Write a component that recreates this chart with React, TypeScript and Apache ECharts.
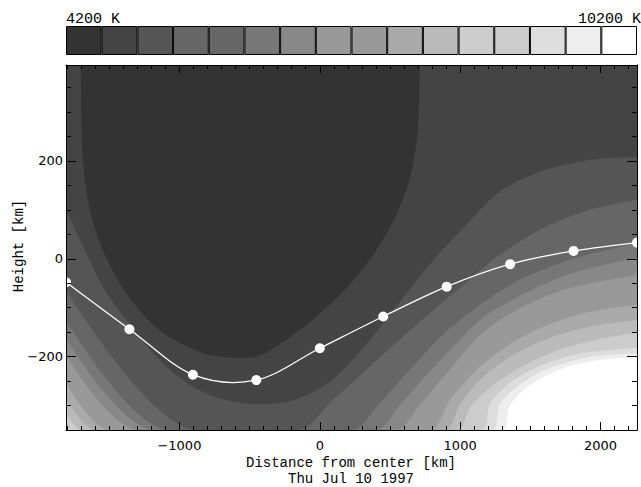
import React, { useEffect, useRef } from "react";
import * as echarts from "echarts";

// ---- axis extents (km) ----
const X_MIN = -1808;
const X_MAX = 2260;
const Y_MIN = -350;
const Y_MAX = 396;

// ---- colour bar ----
const tempLevels = [4200, 4600, 5000, 5400, 5800, 6200, 6600, 7000, 7400, 7800, 8200, 8600, 9000, 9400, 9800, 10200];
const grayLevels = [
  "#333333", "#444444", "#555555", "#666666", "#666666", "#777777", "#888888", "#999999",
  "#999999", "#aaaaaa", "#bbbbbb", "#cccccc", "#cccccc", "#dddddd", "#eeeeee", "#ffffff",
];

// ---- traced height curve (white line with dots) ----
const traceX = [-1808, -1356, -904, -452, 0, 452, 904, 1356, 1808, 2260];
const traceY = [-48, -144, -237, -248, -183, -118, -57, -11, 16, 33];

// ---- tick values ----
const xMajor = [-1000, 0, 1000, 2000];
const yMajor = [-200, 0, 200];
const xMinor: number[] = [];
for (let v = -1800; v <= 2200; v += 100) if (v % 1000 !== 0) xMinor.push(v);
const yMinor: number[] = [];
for (let v = -300; v <= 350; v += 50) if (v % 200 !== 0) yMinor.push(v);

// ---- isotherm boundaries [km, km]; region above each boundary is colder ----
const c01 = [[-1702, 396], [-1688, 202], [-1638, 100], [-1560, 28], [-1460, -33], [-1318, -94], [-1118, -151], [-855, -190], [-712, -200], [-570, -203], [-430, -198], [-335, -184], [-93, -135], [107, -84], [271, -33], [427, 28], [556, 96], [648, 172], [698, 264], [712, 396]];
const c02 = [[-1808, 100], [-1674, 18], [-1531, -64], [-1353, -135], [-1140, -207], [-926, -258], [-712, -285], [-463, -297], [-214, -291], [71, -252], [356, -166], [570, -88], [783, -11], [997, 55], [1282, 137], [1567, 178], [1923, 202], [2260, 208]];
const c03 = [[-1808, -64], [-876, -350], [-164, -350], [107, -285], [392, -211], [712, -129], [997, -60], [1282, 8], [1567, 59], [1923, 100], [2260, 120]];
const c04 = [[-1808, -94], [-976, -350], [36, -350], [285, -285], [534, -211], [819, -131], [1140, -64], [1424, -13], [1781, 32], [2260, 69]];
const c05 = [[-1808, -125], [-1068, -350], [228, -350], [427, -295], [641, -227], [890, -152], [1140, -94], [1424, -43], [1781, -2], [2260, 32]];
const c06 = [[-1808, -162], [-1175, -350], [399, -350], [570, -299], [783, -231], [997, -166], [1140, -125], [1424, -76], [1781, -31], [2260, 2]];
const c07 = [[-1808, -197], [-1282, -350], [541, -350], [712, -299], [926, -227], [1140, -156], [1424, -101], [1781, -60], [2260, -33]];
const c08 = [[-1808, -223], [-1389, -350], [662, -350], [783, -305], [926, -258], [1104, -201], [1318, -152], [1567, -115], [1887, -84], [2260, -64]];
const c09 = [[-1808, -252], [-1496, -350], [783, -350], [926, -289], [1104, -231], [1318, -182], [1567, -142], [1887, -111], [2260, -94]];
const c10 = [[-1808, -285], [-1595, -350], [890, -350], [997, -299], [1140, -248], [1353, -201], [1638, -162], [1923, -139], [2260, -125]];
const c11 = [[-1808, -315], [-1695, -350], [983, -350], [1068, -305], [1211, -264], [1424, -223], [1709, -186], [1994, -164], [2260, -152]];
const c12 = [[-1808, -350], [1068, -350], [1140, -299], [1282, -258], [1496, -221], [1781, -193], [2030, -178], [2260, -170]];
const c13 = [[-1808, -350], [1154, -350], [1211, -297], [1353, -254], [1567, -219], [1852, -194], [2260, -182]];
const c14 = [[-1808, -350], [1225, -350], [1282, -298], [1424, -257], [1638, -224], [1923, -201], [2260, -193]];
const c15 = [[-1808, -350], [1296, -350], [1353, -300], [1496, -259], [1709, -227], [1923, -210], [2260, -201]];
const isotherms = [c01, c02, c03, c04, c05, c06, c07, c08, c09, c10, c11, c12, c13, c14, c15];

const MONO = "Liberation Mono";
const TICKFONT = "DejaVu Sans";
const fmt = (v: number) => (v < 0 ? "\u2212" + Math.abs(v) : String(v));

function traceRenderItem(params: any, api: any) {
  const n = traceX.length;
  const i = params.dataIndex;
  const P = (j: number) => {
    const k = Math.max(0, Math.min(n - 1, j));
    return api.coord([traceX[k], traceY[k]]);
  };
  const children: any[] = [];
  if (i < n - 1) {
    const p0 = P(i - 1), p1 = P(i), p2 = P(i + 1), p3 = P(i + 2);
    children.push({
      type: "bezierCurve",
      shape: {
        x1: p1[0], y1: p1[1], x2: p2[0], y2: p2[1],
        cpx1: p1[0] + (p2[0] - p0[0]) / 6, cpy1: p1[1] + (p2[1] - p0[1]) / 6,
        cpx2: p2[0] - (p3[0] - p1[0]) / 6, cpy2: p2[1] - (p3[1] - p1[1]) / 6,
      },
      style: { stroke: "#ffffff", lineWidth: 1.3, fill: "none" },
      z2: 1,
    });
  }
  const c = P(i);
  children.push({ type: "circle", shape: { cx: c[0], cy: c[1], r: 5 }, style: { fill: "#ffffff" }, z2: 2 });
  return { type: "group", children };
}

function buildOption() {
  const axisBase = (extra: any) => ({
    gridIndex: 0,
    type: "value",
    z: 6,
    splitLine: { show: false },
    ...extra,
  });
  const line = { show: true, onZero: false, lineStyle: { color: "#000", width: 1 } };
  const noLine = { show: false, onZero: false };

  const xAxis: any[] = [
    axisBase({ min: X_MIN, max: X_MAX, position: "bottom", axisLine: line,
      axisTick: { show: true, inside: true, length: 8, customValues: xMajor, lineStyle: { color: "#000" } },
      axisLabel: { show: true, customValues: xMajor, formatter: fmt, color: "#000", fontFamily: TICKFONT, fontSize: 13, margin: 9 } }),
    axisBase({ min: X_MIN, max: X_MAX, position: "bottom", axisLine: noLine,
      axisTick: { show: true, inside: true, length: 4, customValues: xMinor, lineStyle: { color: "#000" } },
      axisLabel: { show: false } }),
    axisBase({ min: X_MIN, max: X_MAX, position: "top", axisLine: line,
      axisTick: { show: true, inside: true, length: 8, customValues: xMajor, lineStyle: { color: "#000" } },
      axisLabel: { show: false } }),
    axisBase({ min: X_MIN, max: X_MAX, position: "top", axisLine: noLine,
      axisTick: { show: true, inside: true, length: 4, customValues: xMinor, lineStyle: { color: "#000" } },
      axisLabel: { show: false } }),
    { gridIndex: 1, type: "category", data: tempLevels.map(String), show: false },
  ];
  const yAxis: any[] = [
    axisBase({ min: Y_MIN, max: Y_MAX, position: "left", axisLine: line,
      axisTick: { show: true, inside: true, length: 10, customValues: yMajor, lineStyle: { color: "#000" } },
      axisLabel: { show: true, customValues: yMajor, formatter: fmt, color: "#000", fontFamily: TICKFONT, fontSize: 13, margin: 3 } }),
    axisBase({ min: Y_MIN, max: Y_MAX, position: "left", axisLine: noLine,
      axisTick: { show: true, inside: true, length: 5, customValues: yMinor, lineStyle: { color: "#000" } },
      axisLabel: { show: false } }),
    axisBase({ min: Y_MIN, max: Y_MAX, position: "right", axisLine: line,
      axisTick: { show: true, inside: true, length: 10, customValues: yMajor, lineStyle: { color: "#000" } },
      axisLabel: { show: false } }),
    axisBase({ min: Y_MIN, max: Y_MAX, position: "right", axisLine: noLine,
      axisTick: { show: true, inside: true, length: 5, customValues: yMinor, lineStyle: { color: "#000" } },
      axisLabel: { show: false } }),
    { gridIndex: 1, type: "value", min: 0, max: 1, show: false },
  ];

  const series: any[] = [];
  for (let k = isotherms.length; k >= 1; k--) {
    series.push({
      type: "line",
      xAxisIndex: 0,
      yAxisIndex: 0,
      data: isotherms[k - 1],
      smooth: 0.3,
      symbol: "none",
      silent: true,
      z: 1,
      lineStyle: { width: 0, opacity: 0 },
      areaStyle: { color: grayLevels[k - 1], opacity: 1, origin: "end" },
    });
  }
  series.push({
    type: "custom",
    xAxisIndex: 0,
    yAxisIndex: 0,
    data: traceX.map((x, i) => [x, traceY[i]]),
    encode: { x: 0, y: 1 },
    renderItem: traceRenderItem,
    clip: true,
    silent: true,
    z: 3,
  });
  series.push({
    type: "bar",
    xAxisIndex: 4,
    yAxisIndex: 4,
    barWidth: "100%",
    barCategoryGap: 0,
    data: grayLevels.map((c) => ({ value: 1, itemStyle: { color: c } })),
    itemStyle: { borderColor: "#000", borderWidth: 1 },
    silent: true,
  });

  return {
    animation: false,
    backgroundColor: "#ffffff",
    grid: [
      { left: 66, top: 65, width: 571, height: 365, show: false },
      { left: 66, top: 26, width: 571, height: 29, show: false },
    ],
    xAxis,
    yAxis,
    series,
    graphic: [
      { type: "text", x: 66, y: 19, style: { text: "4200 K", font: `15px "${MONO}"`, fill: "#000", textAlign: "left", textVerticalAlign: "middle" } },
      { type: "text", x: 641, y: 19, style: { text: "10200 K", font: `15px "${MONO}"`, fill: "#000", textAlign: "right", textVerticalAlign: "middle" } },
      { type: "text", x: 351, y: 463, style: { text: "Distance from center [km]", font: `14px "${MONO}"`, fill: "#000", textAlign: "center", textVerticalAlign: "middle" } },
      { type: "text", x: 351, y: 479, style: { text: "Thu Jul 10 1997", font: `14px "${MONO}"`, fill: "#000", textAlign: "center", textVerticalAlign: "middle" } },
      { type: "text", x: 19, y: 246, rotation: Math.PI / 2, style: { text: "Height [km]", font: `14px "${MONO}"`, fill: "#000", textAlign: "center", textVerticalAlign: "middle" } },
    ],
  };
}

export default function App() {
  const ref = useRef<HTMLDivElement>(null);
  useEffect(() => {
    if (!ref.current) return;
    const chart = echarts.init(ref.current, null, { renderer: "svg" });
    chart.setOption(buildOption() as any);
    return () => chart.dispose();
  }, []);
  return (
    <div
      ref={ref}
      style={{ position: "fixed", left: 0, top: 0, width: 641, height: 487, background: "#fff" }}
    />
  );
}
